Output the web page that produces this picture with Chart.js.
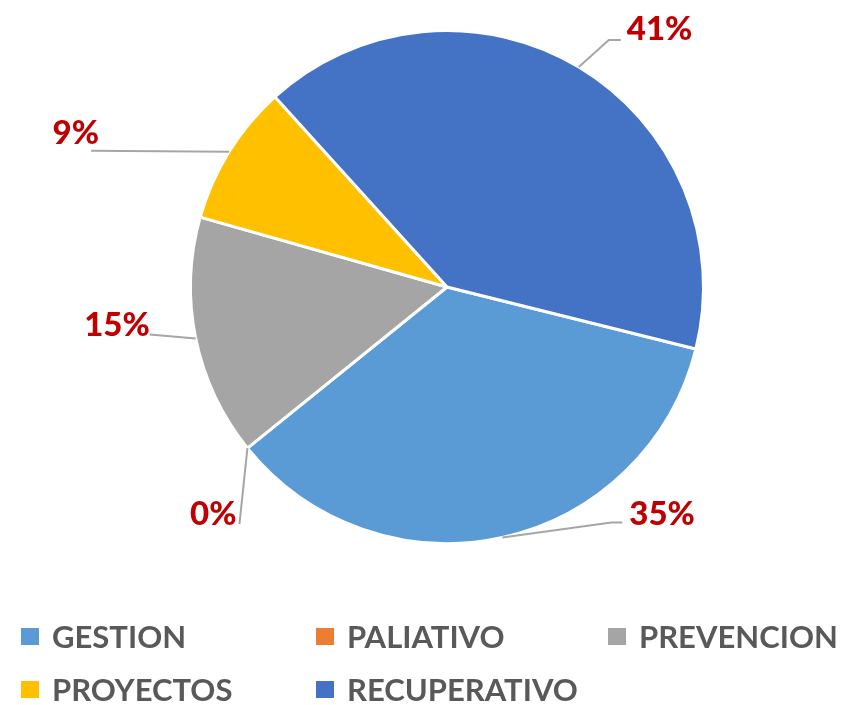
<!DOCTYPE html>
<html>
<head>
<meta charset="utf-8">
<script src="https://cdn.jsdelivr.net/npm/chart.js@4.4.1/dist/chart.umd.min.js"></script>
<style>
  html, body { margin: 0; padding: 0; background: #fff; }
  #wrap { width: 844px; height: 705px; }
</style>
</head>
<body>
<div id="wrap"><canvas id="pieChart" width="844" height="705"></canvas></div>
<script>
// data (percent of total)
const categories = ['GESTION', 'PALIATIVO', 'PREVENCION', 'PROYECTOS', 'RECUPERATIVO'];
const shares = [35.3, 0, 15.2, 8.9, 40.6];
const sliceColors = ['#5B9BD5', '#ED7D31', '#A5A5A5', '#FFC000', '#4472C4'];

// where each data label sits, relative to the slice's outer midpoint
// [line end dx, line end dy, elbow length, text dx, text dy, align]
const labelPlace = [
  [120, -15, 11, 7, 3, 'left'],
  [-8, 76, 0, -3, 1, 'right'],
  [-46, -4, 0, 0, 2, 'right'],
  [-138, -1, 0, 8, -7, 'right'],
  [42, -27, 12, 6, 0.5, 'left'],
];

const FONT = 'Lato, "Open Sans", sans-serif';

const labelPlugin = {
  id: 'pctLabels',
  afterDatasetsDraw(chart) {
    const ctx = chart.ctx;
    const meta = chart.getDatasetMeta(0);
    const total = shares.reduce((a, b) => a + b, 0);
    meta.data.forEach((arc, i) => {
      const p = arc.getProps(['x', 'y', 'startAngle', 'endAngle', 'outerRadius'], true);
      const mid = (p.startAngle + p.endAngle) / 2;
      const sx = p.x + Math.cos(mid) * p.outerRadius;
      const sy = p.y + Math.sin(mid) * p.outerRadius;
      const [dx, dy, elbow, tx, ty, align] = labelPlace[i];
      const ex = sx + dx, ey = sy + dy;
      const dir = align === 'left' ? 1 : -1;
      ctx.save();
      ctx.strokeStyle = '#A6A6A6';
      ctx.lineWidth = 2;
      ctx.beginPath();
      ctx.moveTo(sx, sy);
      ctx.lineTo(ex - dir * elbow, ey);
      ctx.lineTo(ex, ey);
      ctx.stroke();
      ctx.fillStyle = '#C00000';
      ctx.font = '900 33px ' + FONT;
      ctx.textAlign = align;
      ctx.textBaseline = 'alphabetic';
      ctx.fillText(Math.round(shares[i] / total * 100) + '%', ex + tx, ey + ty);
      ctx.restore();
    });
  }
};

// legend laid out as a grid, three per row
const legendPlugin = {
  id: 'gridLegend',
  afterDraw(chart) {
    const ctx = chart.ctx;
    const colX = [21, 316, 608];
    const rowY = [636, 689];
    ctx.save();
    ctx.font = 'bold 31px ' + FONT;
    ctx.textBaseline = 'alphabetic';
    ctx.textAlign = 'left';
    categories.forEach((name, i) => {
      const x = colX[i % 3];
      const y = rowY[Math.floor(i / 3)];
      ctx.fillStyle = sliceColors[i];
      ctx.fillRect(x, y - 8, 18, 17);
      ctx.fillStyle = '#595959';
      ctx.fillText(name, x + 31, y + 12);
    });
    ctx.restore();
  }
};

new Chart(document.getElementById('pieChart'), {
  type: 'pie',
  data: {
    labels: categories,
    datasets: [{
      data: shares,
      backgroundColor: sliceColors,
      borderColor: '#FFFFFF',
      borderWidth: 3,
    }],
  },
  options: {
    responsive: false,
    animation: false,
    rotation: 104,
    layout: { padding: { left: 189, right: 139, top: 29, bottom: 160 } },
    plugins: {
      legend: { display: false },
      tooltip: { enabled: false },
    },
  },
  plugins: [labelPlugin, legendPlugin],
});
</script>
</body>
</html>
